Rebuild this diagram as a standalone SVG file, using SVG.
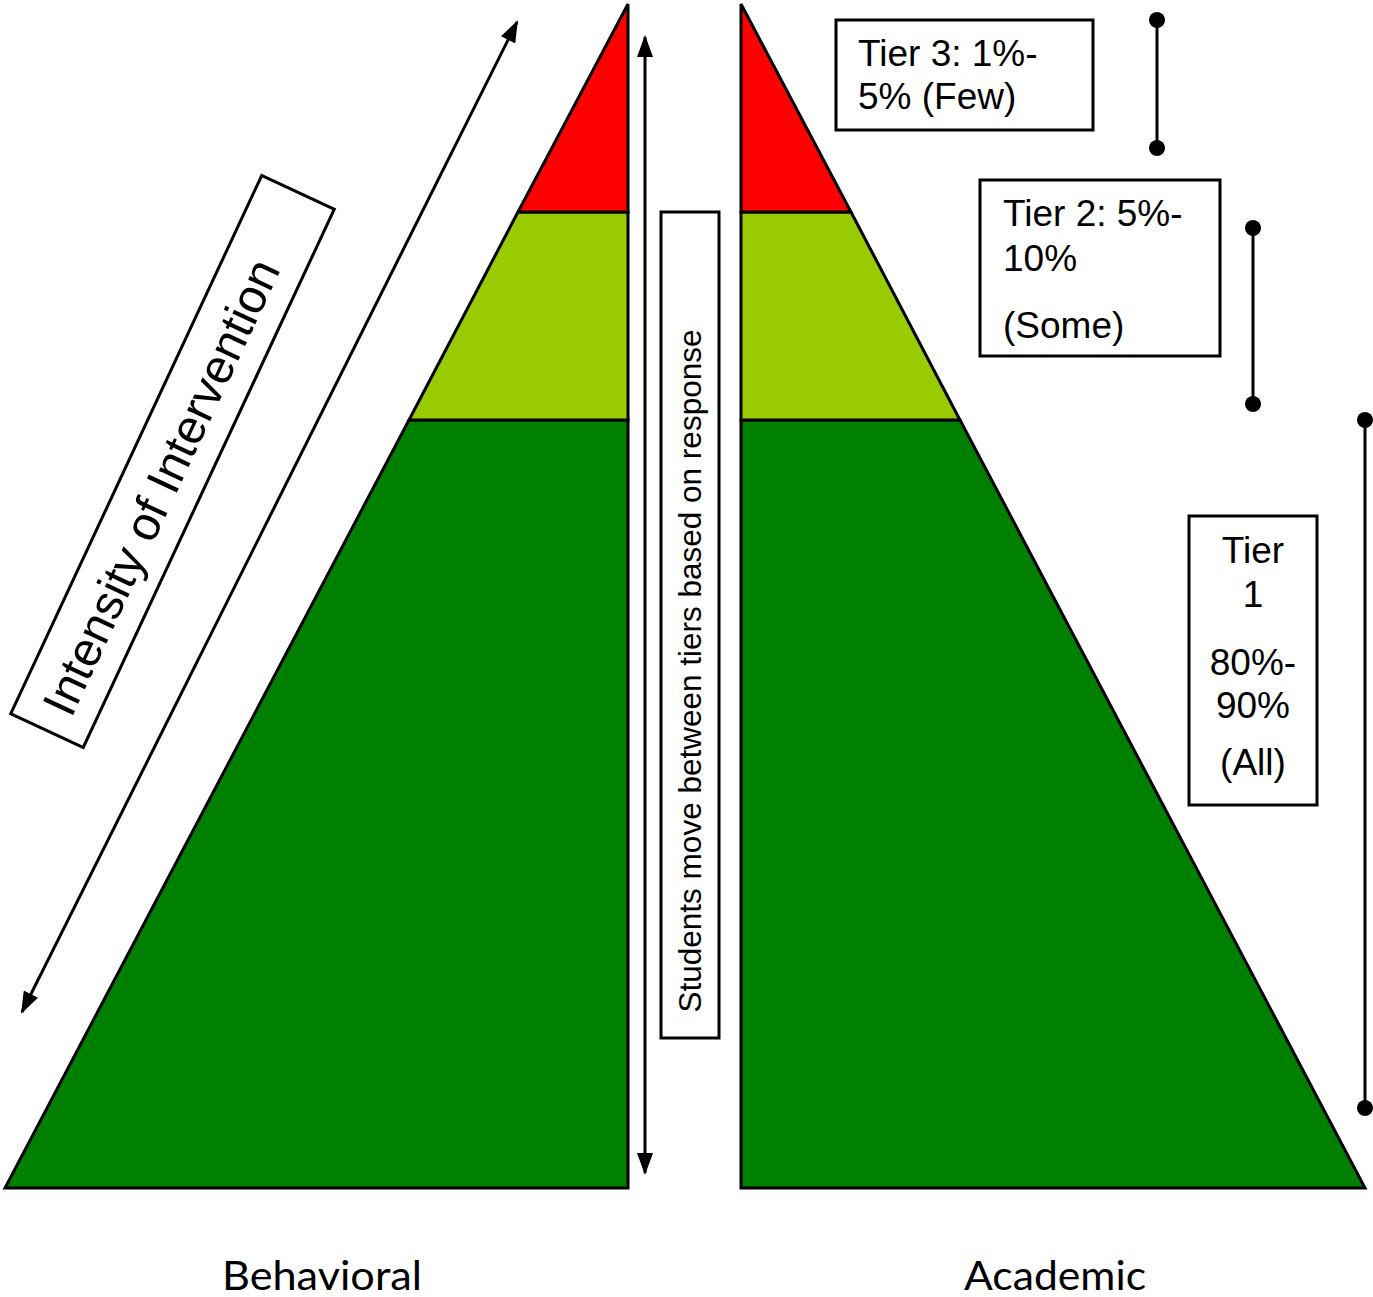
<svg xmlns="http://www.w3.org/2000/svg" width="1373" height="1297" viewBox="0 0 1373 1297">
<style>
.tier{stroke:#000;stroke-width:3;stroke-linejoin:miter}
.red{fill:#FF0000}
.lg{fill:#99CC00}
.dg{fill:#008000}
.box{fill:#fff;stroke:#000;stroke-width:3}
.t{font-family:"Liberation Sans",Arial,sans-serif;fill:#000}
.lbl{font-family:Lato,"Open Sans",sans-serif;font-size:40px;fill:#000}
.ln{stroke:#000;stroke-width:3;fill:none}
.dot{fill:#000}
</style>
<defs>
<marker id="ah" markerUnits="userSpaceOnUse" markerWidth="22" markerHeight="16" refX="20" refY="8" orient="auto-start-reverse" viewBox="0 0 22 16">
<path d="M0,0 L22,8 L0,16 z" fill="#000"/>
</marker>
</defs>
<rect width="1373" height="1297" fill="#fff"/>
<g id="behavioral-pyramid">
<polygon class="tier dg" points="409,420 628,420 628,1188 5,1188"/>
<polygon class="tier lg" points="518,212 628,212 628,420 409,420"/>
<polygon class="tier red" points="628,4 628,212 518,212"/>
</g>
<g id="academic-pyramid">
<polygon class="tier dg" points="741,420 960,420 1365,1188 741,1188"/>
<polygon class="tier lg" points="741,212 851,212 960,420 741,420"/>
<polygon class="tier red" points="741,4 851,212 741,212"/>
</g>
<g id="connectors">
<line class="ln" x1="22" y1="1012" x2="517" y2="22" marker-start="url(#ah)" marker-end="url(#ah)"/>
<line class="ln" x1="645" y1="37" x2="645" y2="1173" marker-start="url(#ah)" marker-end="url(#ah)"/>
<line class="ln" x1="1157" y1="20" x2="1157" y2="148"/>
<circle class="dot" cx="1157" cy="20" r="8"/>
<circle class="dot" cx="1157" cy="148" r="8"/>
<line class="ln" x1="1253" y1="228" x2="1253" y2="404"/>
<circle class="dot" cx="1253" cy="228" r="8"/>
<circle class="dot" cx="1253" cy="404" r="8"/>
<line class="ln" x1="1365" y1="420" x2="1365" y2="1108"/>
<circle class="dot" cx="1365" cy="420" r="8"/>
<circle class="dot" cx="1365" cy="1108" r="8"/>
</g>
<g id="intensity" transform="translate(172.5,461.5) rotate(-65)">
<rect class="box" x="-297" y="-40" width="594" height="80"/>
<text class="t" x="-28" y="17" font-size="48" text-anchor="middle">Intensity of Intervention</text>
</g>
<g id="students-move">
<rect class="box" x="661" y="212" width="58" height="826"/>
<text class="t" transform="translate(701,671) rotate(-90)" font-size="31.5" text-anchor="middle">Students move between tiers based on response</text>
</g>
<g id="tier3">
<rect class="box" x="836" y="20" width="257" height="110"/>
<text class="t" font-size="37"><tspan x="858" y="66">Tier 3: 1%-</tspan><tspan x="858" y="109">5% (Few)</tspan></text>
</g>
<g id="tier2">
<rect class="box" x="980" y="180" width="240" height="176"/>
<text class="t" font-size="37"><tspan x="1003" y="226">Tier 2: 5%-</tspan><tspan x="1003" y="271">10%</tspan><tspan x="1003" y="338">(Some)</tspan></text>
</g>
<g id="tier1">
<rect class="box" x="1189" y="516" width="128" height="289"/>
<text class="t" font-size="37" text-anchor="middle"><tspan x="1253" y="563">Tier</tspan><tspan x="1253" y="607">1</tspan><tspan x="1253" y="675">80%-</tspan><tspan x="1253" y="718">90%</tspan><tspan x="1253" y="775">(All)</tspan></text>
</g>
<g id="labels">
<text class="lbl" x="322" y="1290" text-anchor="middle" textLength="200" lengthAdjust="spacingAndGlyphs">Behavioral</text>
<text class="lbl" x="1055" y="1290" text-anchor="middle" textLength="182" lengthAdjust="spacingAndGlyphs">Academic</text>
</g>
</svg>
